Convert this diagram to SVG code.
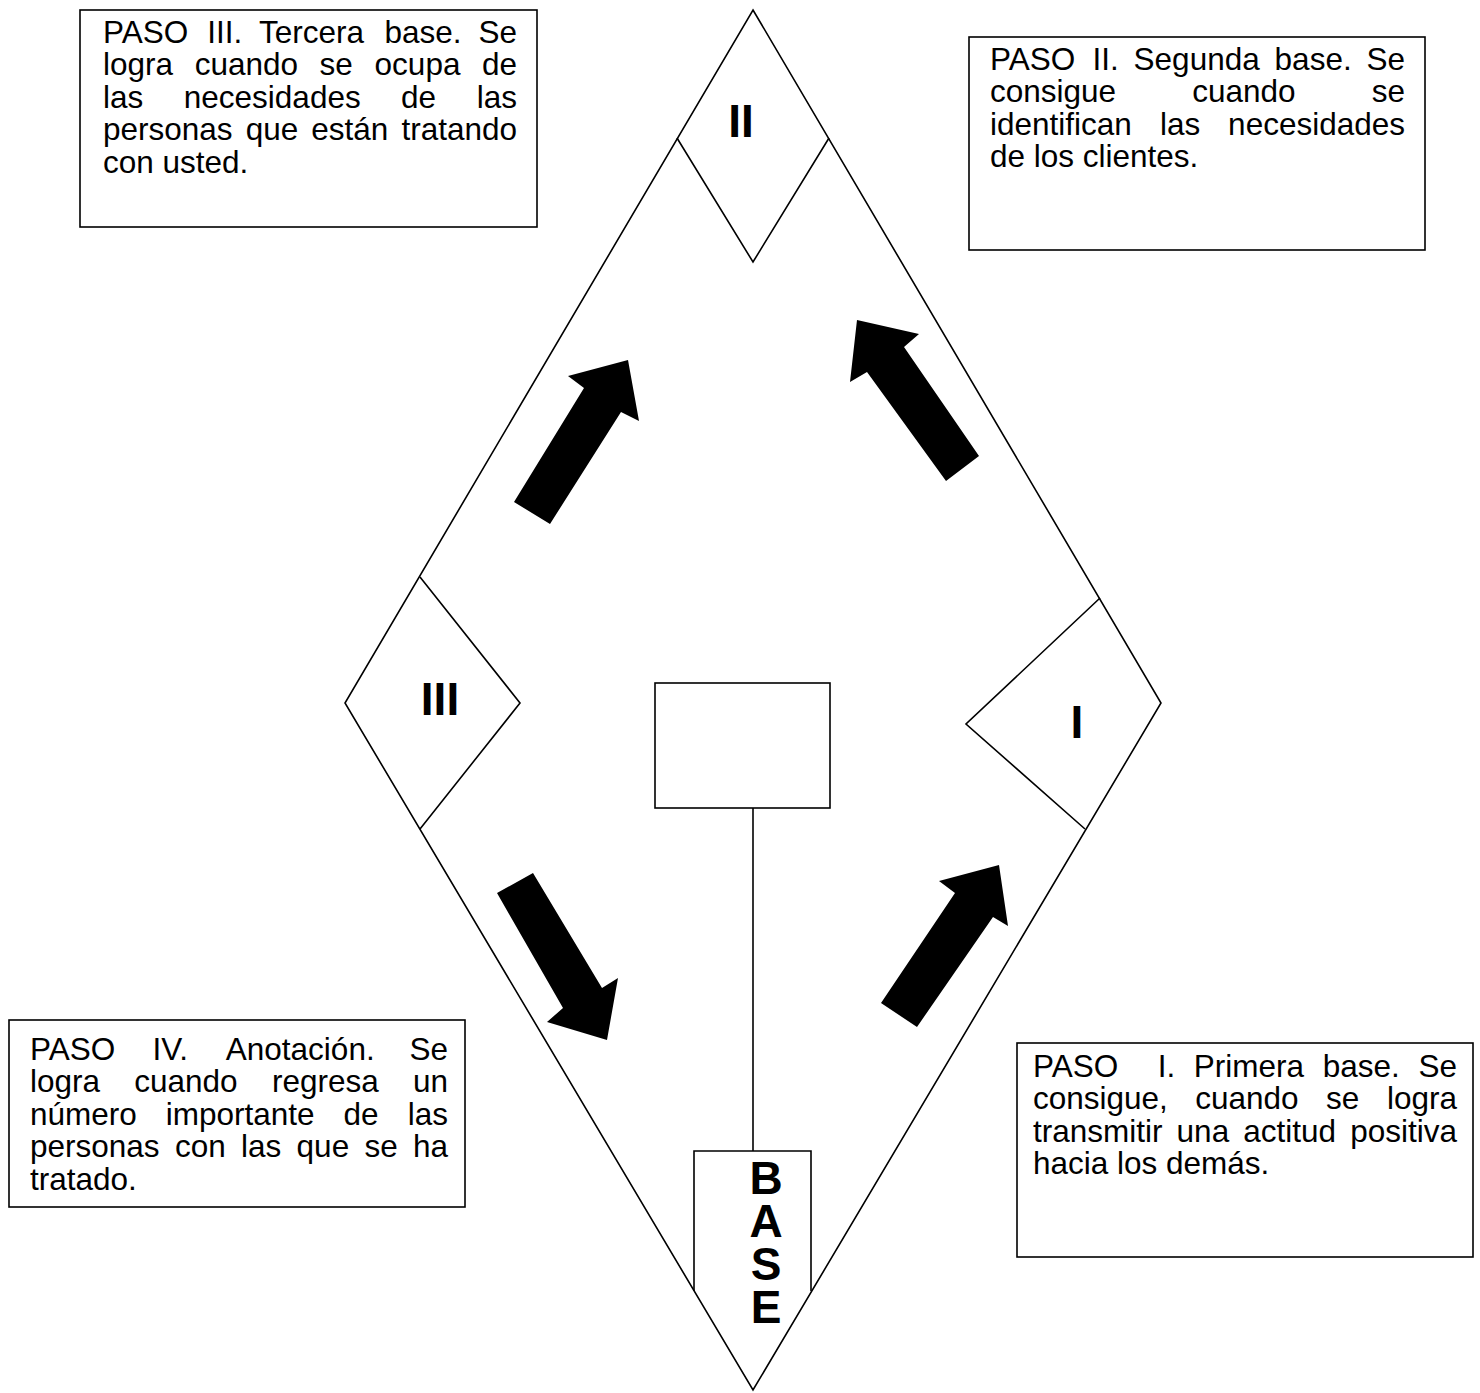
<svg xmlns="http://www.w3.org/2000/svg" width="1480" height="1393" viewBox="0 0 1480 1393">
<style>
.ln{fill:none;stroke:#000;stroke-width:1.6}
.box{fill:#fff;stroke:#000;stroke-width:1.6}
.t{font-family:"Liberation Sans",Arial,sans-serif;font-size:31.5px;fill:#000}
.e{text-anchor:end}
.rn{font-family:"Liberation Sans",Arial,sans-serif;font-size:46px;font-weight:bold;fill:#000;text-anchor:middle}
.arr{fill:#000;stroke:none}
</style>
<rect width="1480" height="1393" fill="#fff"/>
<g id="field">
<polygon class="ln" points="753,10 1161,703 753,1390 345,703"/>
</g>
<g id="base2">
<polyline class="ln" points="677,138 753,262 829,138"/>
<text class="rn" x="741" y="137">II</text>
</g>
<g id="base3">
<polyline class="ln" points="420,577 520,703 420,829"/>
<text class="rn" x="440" y="715">III</text>
</g>
<g id="base1">
<polyline class="ln" points="1100,598 966,724 1085,829"/>
<text class="rn" x="1077" y="738">I</text>
</g>
<g id="center">
<rect class="box" x="655" y="683" width="175" height="125"/>
</g>
<g id="home">
<polyline class="ln" points="694,1291 694,1151 811,1151 811,1291"/>
<text class="rn" x="766" y="1194">B</text>
<text class="rn" x="766" y="1237">A</text>
<text class="rn" x="766" y="1280">S</text>
<text class="rn" x="766" y="1323">E</text>
</g>
<g id="connectors">
<line class="ln" x1="753" y1="808" x2="753" y2="1151"/>
<polygon class="arr" points="514,502 584,388 568,376 628,360 639,421 621,412 550,524"/>
<polygon class="arr" points="946,481 867,372 850,382 857,320 919,334 904,347 979,456"/>
<polygon class="arr" points="497,893 533,873 602,988 618,978 607,1040 547,1022 563,1008"/>
<polygon class="arr" points="881,1003 955,893 939,881 999,865 1008,926 993,917 917,1027"/>
</g>
<g id="paso3">
<rect class="box" x="80" y="10" width="457" height="217"/>
<text class="t" y="43"><tspan x="103">PASO</tspan><tspan x="207.3">III.</tspan><tspan x="259.1">Tercera</tspan><tspan x="384.4">base.</tspan></text>
<text class="t e" x="517" y="43">Se</text>
<text class="t" y="75.4"><tspan x="103">logra</tspan><tspan x="194.7">cuando</tspan><tspan x="319.6">se</tspan><tspan x="374.6">ocupa</tspan></text>
<text class="t e" x="517" y="75.4">de</text>
<text class="t" y="107.8"><tspan x="103">las</tspan><tspan x="183.8">necesidades</tspan><tspan x="401.1">de</tspan></text>
<text class="t e" x="517" y="107.8">las</text>
<text class="t" y="140.2"><tspan x="103">personas</tspan><tspan x="245.7">que</tspan><tspan x="311.3">están</tspan></text>
<text class="t e" x="517" y="140.2">tratando</text>
<text class="t" x="103" y="172.6">con usted.</text>
</g>
<g id="paso2">
<rect class="box" x="969" y="37" width="456" height="213"/>
<text class="t" y="70"><tspan x="990">PASO</tspan><tspan x="1092.4">II.</tspan><tspan x="1133.6">Segunda</tspan><tspan x="1274.6">base.</tspan></text>
<text class="t e" x="1405" y="70">Se</text>
<text class="t" y="102.4"><tspan x="990">consigue</tspan><tspan x="1192.3">cuando</tspan></text>
<text class="t e" x="1405" y="102.4">se</text>
<text class="t" y="134.8"><tspan x="990">identifican</tspan><tspan x="1159.9">las</tspan></text>
<text class="t e" x="1405" y="134.8">necesidades</text>
<text class="t" x="990" y="167.2">de los clientes.</text>
</g>
<g id="paso4">
<rect class="box" x="9" y="1020" width="456" height="187"/>
<text class="t" y="1060"><tspan x="30">PASO</tspan><tspan x="152.4">IV.</tspan><tspan x="225.8">Anotación.</tspan></text>
<text class="t e" x="448" y="1060">Se</text>
<text class="t" y="1092.4"><tspan x="30">logra</tspan><tspan x="134.3">cuando</tspan><tspan x="271.9">regresa</tspan></text>
<text class="t e" x="448" y="1092.4">un</text>
<text class="t" y="1124.8"><tspan x="30">número</tspan><tspan x="165.8">importante</tspan><tspan x="343.6">de</tspan></text>
<text class="t e" x="448" y="1124.8">las</text>
<text class="t" y="1157.2"><tspan x="30">personas</tspan><tspan x="174.9">con</tspan><tspan x="241">las</tspan><tspan x="296.6">que</tspan><tspan x="364.4">se</tspan></text>
<text class="t e" x="448" y="1157.2">ha</text>
<text class="t" x="30" y="1189.6">tratado.</text>
</g>
<g id="paso1">
<rect class="box" x="1017" y="1043" width="456" height="214"/>
<text class="t" y="1077"><tspan x="1033">PASO</tspan><tspan x="1157.7">I.</tspan><tspan x="1193.8">Primera</tspan><tspan x="1322.7">base.</tspan></text>
<text class="t e" x="1457" y="1077">Se</text>
<text class="t" y="1109.4"><tspan x="1033">consigue,</tspan><tspan x="1195.3">cuando</tspan><tspan x="1326.1">se</tspan></text>
<text class="t e" x="1457" y="1109.4">logra</text>
<text class="t" y="1141.8"><tspan x="1033">transmitir</tspan><tspan x="1176.6">una</tspan><tspan x="1243.2">actitud</tspan></text>
<text class="t e" x="1457" y="1141.8">positiva</text>
<text class="t" x="1033" y="1174.2">hacia los demás.</text>
</g>
</svg>
